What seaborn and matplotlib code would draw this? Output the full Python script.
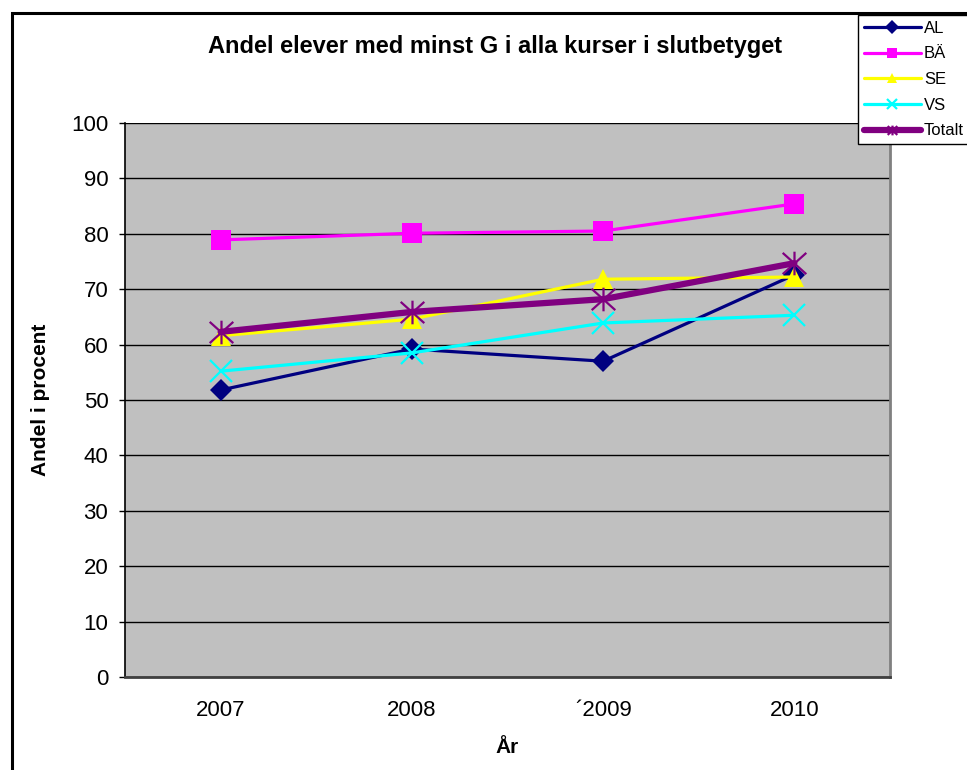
import matplotlib
matplotlib.use("Agg")
import matplotlib.pyplot as plt
from matplotlib.path import Path
from matplotlib.patches import Rectangle
import seaborn as sns
import pandas as pd

# data
years = ["2007", "2008", "´2009", "2010"]
al = [51.8, 59.2, 57.0, 72.6]
ba = [78.9, 80.1, 80.5, 85.4]
se = [61.6, 64.6, 71.8, 72.2]
vs = [55.2, 58.5, 63.9, 65.3]
totalt = [62.3, 65.9, 68.2, 74.7]
series_names = ["AL", "BÄ", "SE", "VS", "Totalt"]

sns.set_style("white")
plt.rcParams["font.family"] = ["Liberation Sans", "DejaVu Sans"]
plt.rcParams["text.color"] = "black"
plt.rcParams["axes.labelcolor"] = "black"
plt.rcParams["xtick.color"] = "black"
plt.rcParams["ytick.color"] = "black"

df = pd.DataFrame({"År": years, "AL": al, "BÄ": ba, "SE": se, "VS": vs, "Totalt": totalt})
long = df.melt(id_vars="År", value_vars=series_names, var_name="Serie", value_name="Andel")

# Excel style star: X with a vertical bar
star = Path([(0, -1), (0, 1), (-1, -0.9), (1, 0.9), (-1, 0.9), (1, -0.9)],
            [Path.MOVETO, Path.LINETO] * 3)

styles = {
    "AL": dict(color="#000080", marker="D", ms=11.5, lw=2.3, mew=0),
    "BÄ": dict(color="#FF00FF", marker="s", ms=14.5, lw=2.3, mew=0),
    "SE": dict(color="#FFFF00", marker="^", ms=15, lw=2.3, mew=0),
    "VS": dict(color="#00FFFF", marker="x", ms=16, lw=2.3, mew=1.6),
    "Totalt": dict(color="#800080", marker=star, ms=17, lw=4.5, mew=1.6),
}

fig = plt.figure(figsize=(9.67, 7.70), dpi=100)
ax = fig.add_axes([125 / 967, 1 - 677 / 770, 765 / 967, 554 / 770])
ax.set_facecolor("#C0C0C0")

for name in series_names:
    st = styles[name]
    sub = long[long["Serie"] == name]
    sns.lineplot(data=sub, x="År", y="Andel", ax=ax, sort=False, estimator=None,
                 color=st["color"], marker=st["marker"], markersize=st["ms"],
                 linewidth=st["lw"], markeredgewidth=st["mew"],
                 markeredgecolor=st["color"], label=name)

ax.set_xlim(-0.5, 3.5)
ax.set_ylim(0, 100)
ax.set_yticks(range(0, 101, 10))
ax.yaxis.grid(True, color="black", lw=1.0)
ax.set_axisbelow(True)

# category boundaries as ticks, labels in between
ax.set_xticks([-0.5, 0.5, 1.5, 2.5, 3.5])
ax.set_xticklabels([])
ax.set_xticks(range(len(years)), minor=True)
ax.set_xticklabels(years, minor=True)
ax.tick_params(axis="x", which="major", length=4.5, width=1, color="#404040", direction="out")
ax.tick_params(axis="x", which="minor", length=0, pad=16.5, labelsize=16)
ax.tick_params(axis="y", length=4.5, width=1, pad=7.5, labelsize=16, left=True)

ax.spines["top"].set_visible(False)
ax.spines["left"].set_color("black")
ax.spines["left"].set_linewidth(1.2)
ax.spines["bottom"].set_color("#404040")
ax.spines["bottom"].set_linewidth(2)
ax.spines["right"].set_color("#808080")
ax.spines["right"].set_linewidth(2)

ax.set_xlabel("År", fontsize=15, fontweight="bold")
ax.xaxis.set_label_coords(0.5, -0.11)
ax.set_ylabel("Andel i procent", fontsize=15, fontweight="bold")
ax.yaxis.set_label_coords(-0.098, 0.5)

fig.text(495 / 967, 1 - 47 / 770, "Andel elever med minst G i alla kurser i slutbetyget",
         ha="center", va="center", fontsize=17, fontweight="bold")

leg = ax.legend(loc="upper left", bbox_to_anchor=(858 / 967, 1 - 15 / 770),
                bbox_transform=fig.transFigure, borderaxespad=0, fontsize=12,
                frameon=True, fancybox=False, edgecolor="black", framealpha=1,
                handlelength=3.4, handletextpad=0.2, labelspacing=0.64, borderpad=0.35)
leg.get_frame().set_linewidth(1.0)
for h in leg.get_lines():
    h.set_markersize(7)

# outer chart frame
fig.add_artist(Rectangle((11.5 / 967, -0.1), 1.2, 1.1 - 13.5 / 770,
                         transform=fig.transFigure, fill=False, ec="black", lw=2.2))

fig.savefig("out.png", dpi=100)
